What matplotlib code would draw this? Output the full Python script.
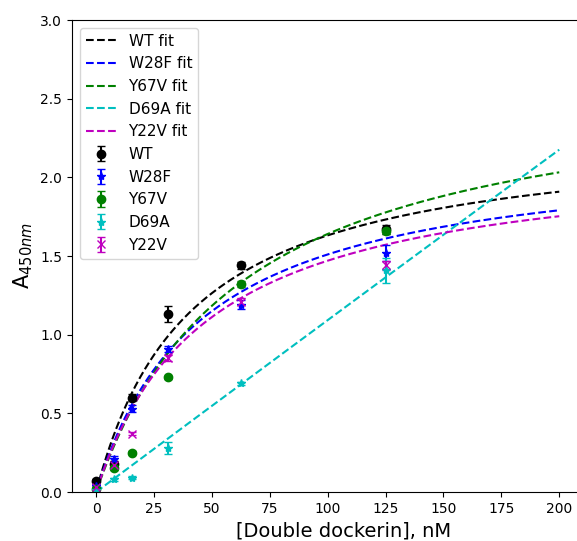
import numpy as np
import matplotlib
matplotlib.use("Agg")
import matplotlib.pyplot as plt

# concentrations of double dockerin (nM)
conc = [0, 7.8, 15.6, 31.25, 62.5, 125]

names = ["WT", "W28F", "Y67V", "D69A", "Y22V"]
colors = ["k", "b", "g", "c", "m"]
markers = ["o", "*", "o", "*", "x"]

# measured A450 (means) and errors
wt = [0.07, 0.18, 0.60, 1.13, 1.44, 1.67]
wt_err = [0.01, 0.02, 0.02, 0.05, 0.02, 0.03]
w28f = [0.04, 0.21, 0.53, 0.91, 1.19, 1.52]
w28f_err = [0.01, 0.02, 0.02, 0.02, 0.03, 0.05]
y67v = [0.02, 0.15, 0.25, 0.73, 1.32, 1.66]
y67v_err = [0.01, 0.01, 0.01, 0.01, 0.02, 0.02]
d69a = [0.01, 0.08, 0.09, 0.28, 0.69, 1.41]
d69a_err = [0.01, 0.01, 0.01, 0.04, 0.01, 0.08]
y22v = [0.03, 0.17, 0.37, 0.85, 1.21, 1.44]
y22v_err = [0.01, 0.01, 0.01, 0.02, 0.02, 0.03]

means = [wt, w28f, y67v, d69a, y22v]
errs = [wt_err, w28f_err, y67v_err, d69a_err, y22v_err]

# one-site binding fit parameters: Bmax, Kd (nM)
bmax = [2.30, 2.20, 2.67, 260.0, 2.17]
kd = [41.0, 45.7, 62.8, 23700.0, 47.6]

fig = plt.figure(figsize=(5.77, 5.41), dpi=100)
# axes runs past the right edge of the figure (reference is cropped there)
ax = fig.add_axes([72 / 577, 49 / 541, 544 / 577, 472 / 541])

xfit = np.linspace(0, 200, 400)
for name, c, B, K in zip(names, colors, bmax, kd):
    ax.plot(xfit, B * xfit / (K + xfit), "--", color=c, label=name + " fit")

for name, c, m, y, e in zip(names, colors, markers, means, errs):
    ax.errorbar(conc, y, yerr=e, fmt=m, color=c, capsize=3, label=name)

ax.set_xlim(-10.4, 224.5)
ax.set_ylim(0, 3.0)
ax.set_xticks([0, 25, 50, 75, 100, 125, 150, 175, 200])
ax.set_xlabel("[Double dockerin], nM", fontsize=14)
ax.set_ylabel(r"A$_{450nm}$", fontsize=15)
ax.legend(loc="upper left", fontsize=11)

fig.savefig("out.png", dpi=100)
